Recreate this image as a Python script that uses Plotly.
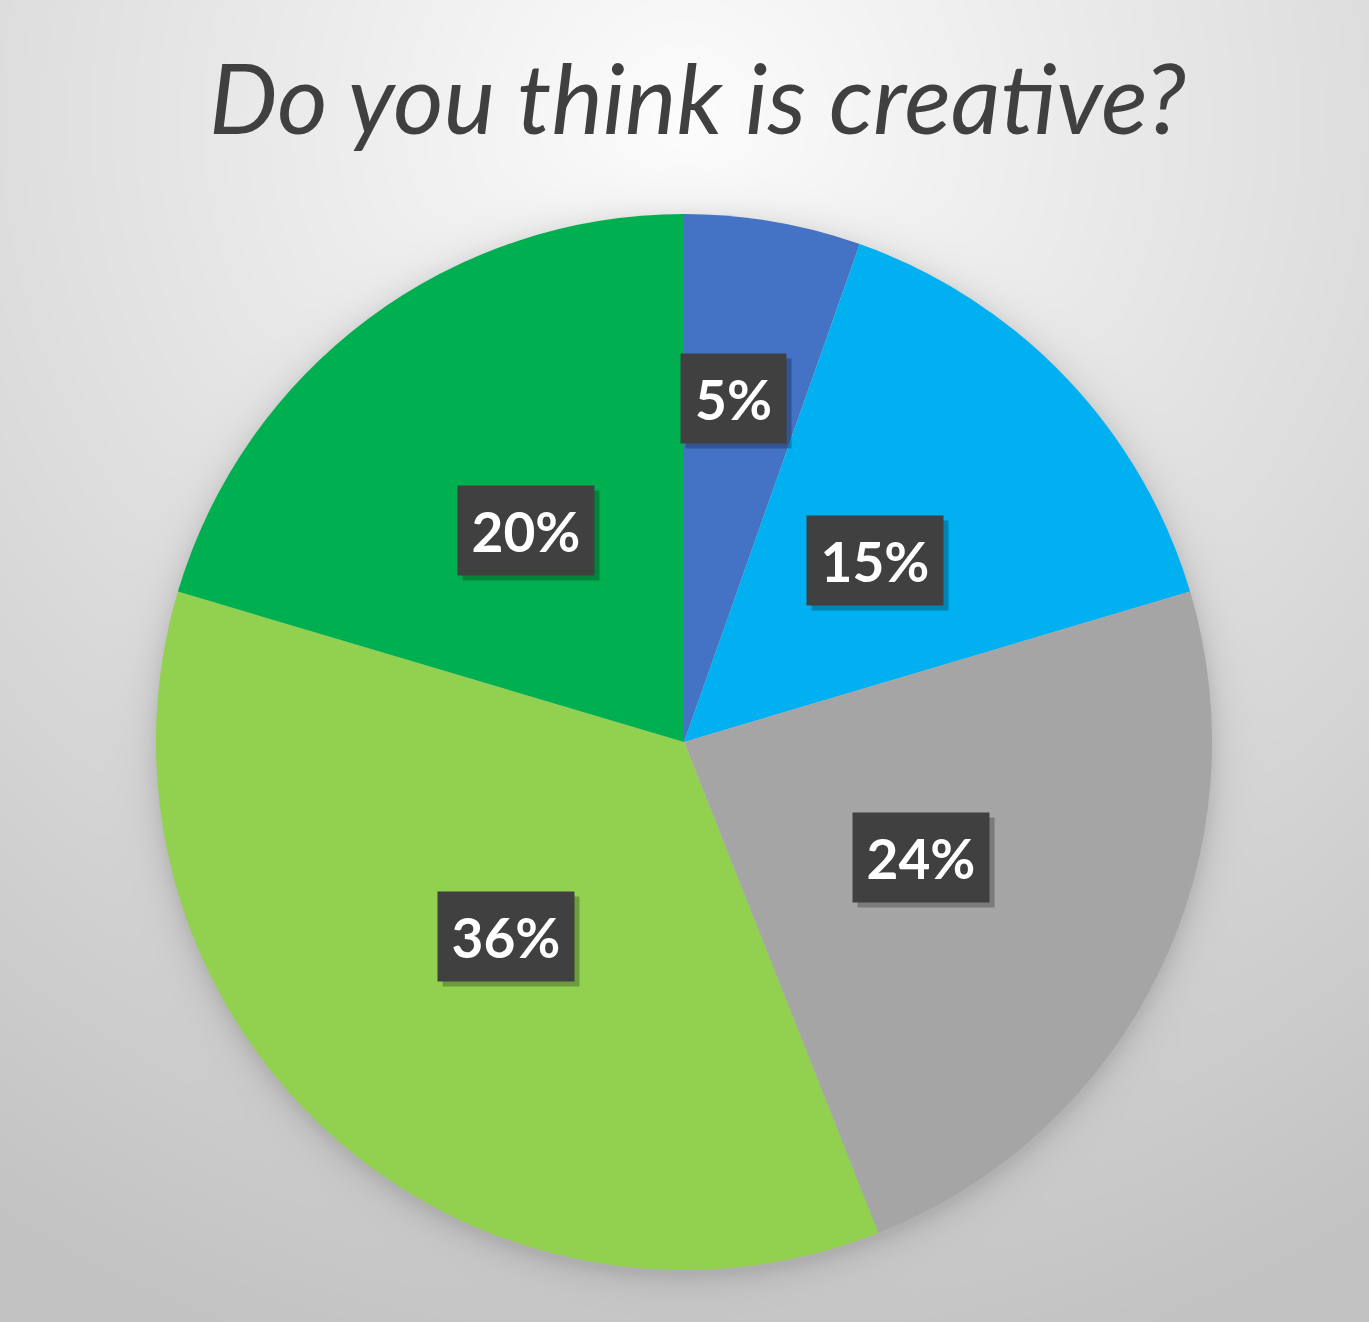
import numpy as np
import plotly.graph_objects as go

# ---- data ----
categories = ["A", "B", "C", "D", "E"]
values = [5.4, 15.0, 23.6, 35.6, 20.4]
colors = ["#4472C4", "#00B0F0", "#A5A5A5", "#92D050", "#00B050"]
title_text = "Do you think is creative?"

W, H = 1369, 1322
CX, CY, R = 684, 742, 528  # pie placement in pixels (layout)

# ---- background gradient with soft pie shadow (decoration) ----
step = 4
xs = np.arange(0, W + step, step)
ys = np.arange(0, H + step, step)
XX, YY = np.meshgrid(xs, ys)
d = np.sqrt((XX - 684) ** 2 + (YY - 120) ** 2)
gray = 252 - 58 * np.clip(d / 1300, 0, 1)
ds = np.sqrt((XX - CX) ** 2 + (YY - (CY + 4)) ** 2) - R
shadow = np.where(ds > 0, 26 * np.exp(-ds / 14), 26)
gray = gray - shadow

fig = go.Figure()
fig.add_trace(go.Heatmap(
    x=xs, y=ys, z=gray, zmin=0, zmax=255,
    colorscale=[[0, "rgb(0,0,0)"], [1, "rgb(255,255,255)"]],
    showscale=False, hoverinfo="skip", zsmooth="best",
    xaxis="x", yaxis="y",
))

fig.add_trace(go.Pie(
    labels=categories, values=values, sort=False, direction="clockwise",
    rotation=0, marker=dict(colors=colors, line=dict(width=0)),
    textinfo="none", showlegend=False,
    domain=dict(x=[(CX - R) / W, (CX + R) / W],
                y=[(H - CY - R) / H, (H - CY + R) / H]),
))

# ---- data labels computed from values ----
total = sum(values)
cum = 0.0
annotations = []
for v in values:
    frac = v / total
    mid = (cum + frac / 2) * 2 * np.pi
    cum += frac
    rf = 0.66 if frac < 0.08 else 0.5
    px = CX + rf * R * np.sin(mid)
    py = CY - rf * R * np.cos(mid)
    if frac < 0.08:
        px -= 9
    txt = f"{round(frac * 100)}%"
    w = 103 if len(txt) == 2 else 134
    for shadow_layer in (True, False):
        annotations.append(dict(
            x=px / W, y=1 - py / H, xref="paper", yref="paper",
            xanchor="center", yanchor="middle",
            text=txt if not shadow_layer else "",
            showarrow=False, width=w, height=87,
            bgcolor="rgba(0,0,0,0.25)" if shadow_layer else "#404040",
            xshift=5 if shadow_layer else 0, yshift=-5 if shadow_layer else 0,
            font=dict(family="Lato", size=55, color="white", weight="bold"),
        ))

annotations.append(dict(
    x=0.5 + 13 / W, y=1 - 96 / H, xref="paper", yref="paper",
    xanchor="center", yanchor="middle", showarrow=False,
    text=title_text,
    font=dict(family="Lato", size=97, color="#404040", style="italic"),
))

fig.update_layout(
    width=W, height=H, margin=dict(l=0, r=0, t=0, b=0),
    paper_bgcolor="white", plot_bgcolor="white",
    xaxis=dict(range=[0, W], domain=[0, 1], visible=False, fixedrange=True),
    yaxis=dict(range=[H, 0], domain=[0, 1], visible=False, fixedrange=True),
    annotations=annotations,
)

fig.write_html("out.html")
